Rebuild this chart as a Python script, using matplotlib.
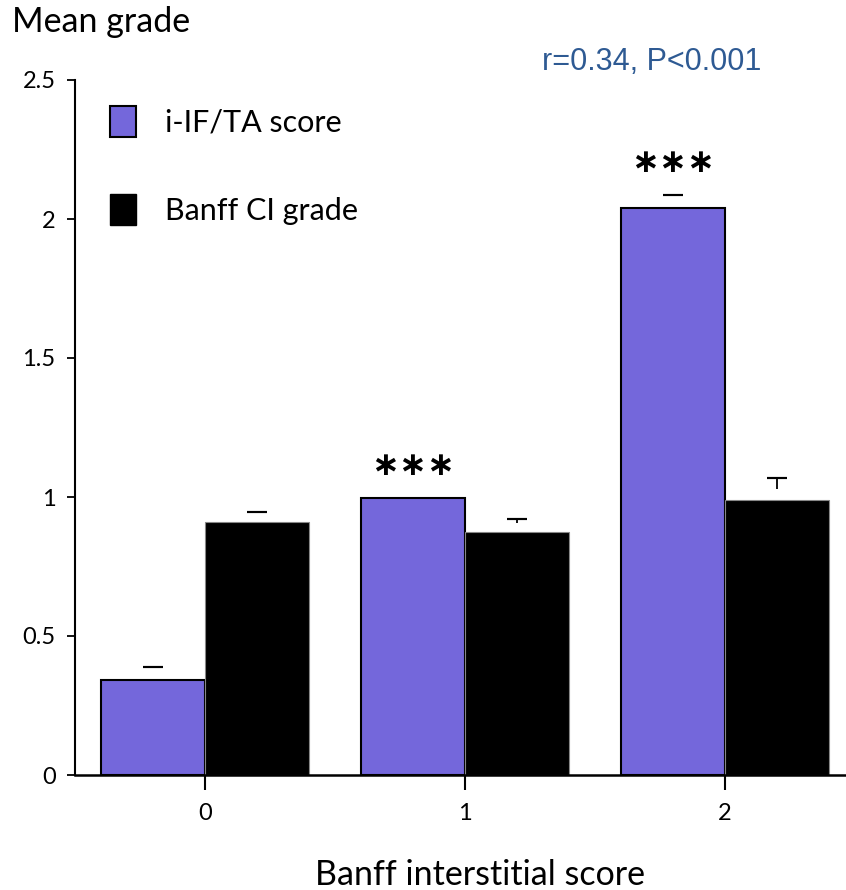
import matplotlib
matplotlib.use("Agg")
import matplotlib.pyplot as plt
from matplotlib.patches import Patch
import numpy as np

categories = ["0", "1", "2"]
series_names = ["i-IF/TA score", "Banff CI grade"]
iifta_mean = [0.34, 0.995, 2.04]
iifta_cap = [0.39, np.nan, 2.085]
ci_mean = [0.91, 0.875, 0.99]
ci_cap = [0.945, 0.92, 1.07]
yticks = [0, 0.5, 1, 1.5, 2, 2.5]
ytick_labels = ["0", "0.5", "1", "1.5", "2", "2.5"]
stars = ["", "∗∗∗", "∗∗∗"]
annotation = "r=0.34, P<0.001"

purple = "#7467DB"
fig = plt.figure(figsize=(8.46, 8.90), dpi=100)
ax = fig.add_axes([75/846, 115/890, 771/846, 695/890])

x = np.arange(len(categories))
w = 0.4
ax.bar(x - w/2, iifta_mean, width=w, color=purple, edgecolor="black", linewidth=1.5, zorder=2)
ax.bar(x + w/2, ci_mean, width=w, color="black", edgecolor="#888888", linewidth=0.8, zorder=2)

capw = 7
ax.errorbar(x - w/2, iifta_cap, yerr=0, fmt="none", ecolor="black", capsize=capw, capthick=1.5, elinewidth=0)
ax.errorbar(x + w/2, ci_cap, yerr=0, fmt="none", ecolor="black", capsize=capw, capthick=1.5, elinewidth=0)
ci_cap_arr = np.array(ci_cap)
ax.vlines(x + w/2, ci_cap_arr - np.array([0.0, 0.012, 0.04]), ci_cap_arr, color="black", linewidth=1.3)

for xi, s in zip(x, stars):
    if s:
        top = iifta_mean[xi] if np.isnan(iifta_cap[xi]) else iifta_cap[xi]
        ax.text(xi - w/2, top + 0.06, s, ha="center", va="bottom", fontsize=24,
                family="DejaVu Sans", fontweight="bold")

ax.set_xlim(-0.5, 2.465)
ax.set_ylim(0, 2.5)
ax.set_xticks(x)
ax.set_xticklabels(categories, fontsize=17, family="Lato")
ax.set_yticks(yticks)
ax.set_yticklabels(ytick_labels, fontsize=17, family="Lato")
ax.tick_params(axis="y", direction="out", length=6, width=1.3, pad=8)
ax.tick_params(axis="x", direction="out", length=11, width=1.5, pad=9)

for s in ["top", "right"]:
    ax.spines[s].set_visible(False)
ax.spines["left"].set_linewidth(1.5)
ax.spines["bottom"].set_linewidth(1.8)

fig.text(12/846, 1 - 22/890, "Mean grade", fontsize=24.5, family="Lato", ha="left", va="center")
fig.text(480/846, 1 - 875/890, "Banff interstitial score", fontsize=24.5, family="Lato",
         ha="center", va="center")
fig.text(652/846, 1 - 62/890, annotation, fontsize=22, family="Liberation Sans",
         color="#2E5A93", ha="center", va="center")

handles = [Patch(facecolor=purple, edgecolor="black", linewidth=1.5),
           Patch(facecolor="black", edgecolor="black")]
leg = ax.legend(handles, series_names, loc="upper left", bbox_to_anchor=(0.025, 0.985),
                frameon=False, prop={"family": "Lato", "size": 22}, borderpad=0,
                handlelength=0.85, handleheight=1.2, labelspacing=1.85, handletextpad=0.95)

fig.savefig("out.png", dpi=100)
